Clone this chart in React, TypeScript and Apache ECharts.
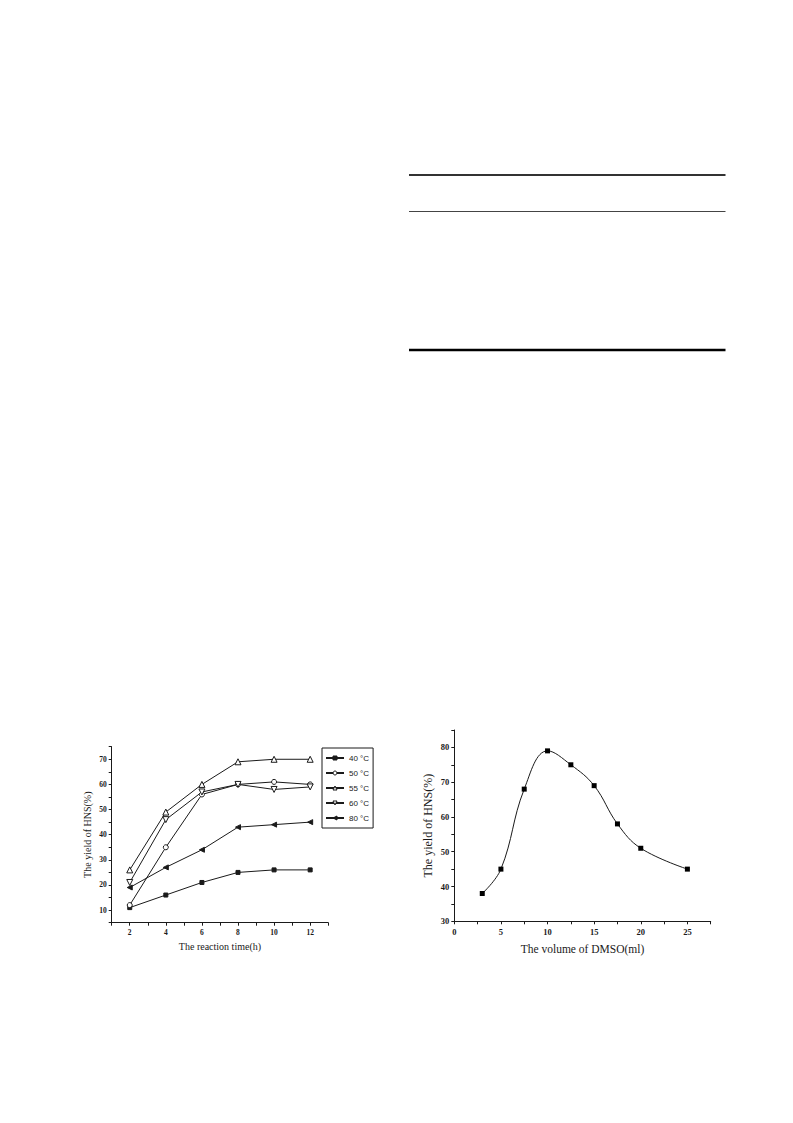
import React, { useEffect, useRef } from "react";
import * as echarts from "echarts";

const timeHours = [2, 4, 6, 8, 10, 12];
const yield40 = [11, 16, 21, 25, 26, 26];
const yield50 = [12, 35, 56, 60, 61, 60];
const yield55 = [26, 49, 60, 69, 70, 70];
const yield60 = [21, 46, 57, 60, 58, 59];
const yield80 = [19, 27, 34, 43, 44, 45];
const seriesNames = ["40 °C", "50 °C", "55 °C", "60 °C", "80 °C"];

const dmsoVolume = [3, 5, 7.5, 10, 12.5, 15, 17.5, 20, 25];
const dmsoYield = [38, 45, 68, 79, 75, 69, 58, 51, 45];

const FONT = "'Liberation Serif', 'Times New Roman', serif";
const INK = "#1a1a1a";

export default function App() {
  const ref = useRef<HTMLDivElement>(null);
  useEffect(() => {
    if (!ref.current) return;
    const chart = echarts.init(ref.current, null, { renderer: "svg" });
    const pair = (xs: number[], ys: number[]) => xs.map((x, i) => [x, ys[i]]);
    const axisCommon = {
      axisLine: { show: true, lineStyle: { color: INK, width: 1 } },
      axisTick: { show: true, length: 3, lineStyle: { color: INK } },
      splitLine: { show: false },
      nameLocation: "middle" as const,
      nameTextStyle: { fontFamily: FONT, color: INK },
    };
    const lineSeries = (name: string, data: number[], symbol: string, filled: boolean, size: number) => ({
      type: "line",
      name,
      xAxisIndex: 0,
      yAxisIndex: 0,
      data: pair(timeHours, data),
      symbol,
      symbolSize: size,
      showAllSymbol: true,
      lineStyle: { color: INK, width: 1 },
      itemStyle: { color: filled ? INK : "#fff", borderColor: INK, borderWidth: 1 },
    });
    chart.setOption({
      animation: false,
      backgroundColor: "#fff",
      textStyle: { fontFamily: FONT },
      grid: [
        { left: 111.7, top: 746.7, width: 216.5, height: 176 },
        { left: 454.3, top: 730, width: 256.4, height: 191.3 },
      ],
      xAxis: [
        {
          ...axisCommon,
          gridIndex: 0,
          type: "value",
          min: 1,
          max: 13,
          interval: 1,
          name: "The reaction time(h)",
          nameGap: 19,
          nameTextStyle: { fontFamily: FONT, color: INK, fontSize: 10 },
          axisLabel: {
            fontFamily: FONT, fontSize: 7.5, fontWeight: "bold", color: INK, margin: 6,
            formatter: (v: number) => (v % 2 === 0 ? String(v) : ""),
          },
        },
        {
          ...axisCommon,
          gridIndex: 1,
          type: "value",
          min: 0,
          max: 27.5,
          interval: 2.5,
          name: "The volume of DMSO(ml)",
          nameGap: 22,
          nameTextStyle: { fontFamily: FONT, color: INK, fontSize: 11.5 },
          axisLabel: {
            fontFamily: FONT, fontSize: 8.5, fontWeight: "bold", color: INK, margin: 6,
            formatter: (v: number) => (v % 5 === 0 && v <= 25 ? String(v) : ""),
          },
        },
      ],
      yAxis: [
        {
          ...axisCommon,
          gridIndex: 0,
          type: "value",
          min: 5,
          max: 75,
          interval: 5,
          name: "The yield of HNS(%)",
          nameGap: 19,
          nameTextStyle: { fontFamily: FONT, color: INK, fontSize: 10 },
          axisLabel: {
            fontFamily: FONT, fontSize: 7.5, fontWeight: "bold", color: INK, margin: 5,
            formatter: (v: number) => (v % 10 === 0 ? String(v) : ""),
          },
        },
        {
          ...axisCommon,
          gridIndex: 1,
          type: "value",
          min: 30,
          max: 85,
          interval: 5,
          name: "The yield of HNS(%)",
          nameGap: 20,
          nameTextStyle: { fontFamily: FONT, color: INK, fontSize: 12 },
          axisLabel: {
            fontFamily: FONT, fontSize: 8.5, fontWeight: "bold", color: INK, margin: 5,
            formatter: (v: number) => (v % 10 === 0 && v <= 80 ? String(v) : ""),
          },
        },
      ],
      legend: {
        show: true,
        data: seriesNames,
        orient: "vertical",
        left: 322,
        top: 748,
        padding: [6, 4, 6, 3],
        itemGap: 7,
        itemWidth: 18,
        itemHeight: 5,
        itemStyle: { borderWidth: 1 },
        borderColor: INK,
        borderWidth: 1,
        backgroundColor: "#fff",
        textStyle: { fontFamily: "'Liberation Sans', sans-serif", fontSize: 8, color: INK },
      },
      graphic: [
        { type: "line", shape: { x1: 409, y1: 175, x2: 725.5, y2: 175 }, style: { stroke: "#333", lineWidth: 2 } },
        { type: "line", shape: { x1: 409, y1: 211.5, x2: 725.5, y2: 211.5 }, style: { stroke: "#444", lineWidth: 1 } },
        { type: "line", shape: { x1: 409, y1: 350, x2: 725.5, y2: 350 }, style: { stroke: "#000", lineWidth: 2.5 } },
      ],
      series: [
        lineSeries(seriesNames[0], yield40, "rect", true, 4),
        lineSeries(seriesNames[1], yield50, "circle", false, 5),
        lineSeries(seriesNames[2], yield55, "triangle", false, 6),
        lineSeries(seriesNames[3], yield60, "path://M0,0 L10,0 L5,10 Z", false, 6),
        lineSeries(seriesNames[4], yield80, "path://M0,5 L10,0 L10,10 Z", true, 5),
        {
          type: "line",
          name: "DMSO",
          xAxisIndex: 1,
          yAxisIndex: 1,
          data: pair(dmsoVolume, dmsoYield),
          smooth: 0.4,
          symbol: "rect",
          symbolSize: 5,
          showAllSymbol: true,
          lineStyle: { color: INK, width: 1 },
          itemStyle: { color: "#000" },
        },
      ],
    });
    return () => chart.dispose();
  }, []);
  return (
    <div
      ref={ref}
      style={{ position: "absolute", left: 0, top: 0, width: 793, height: 1123, background: "#fff" }}
    />
  );
}
